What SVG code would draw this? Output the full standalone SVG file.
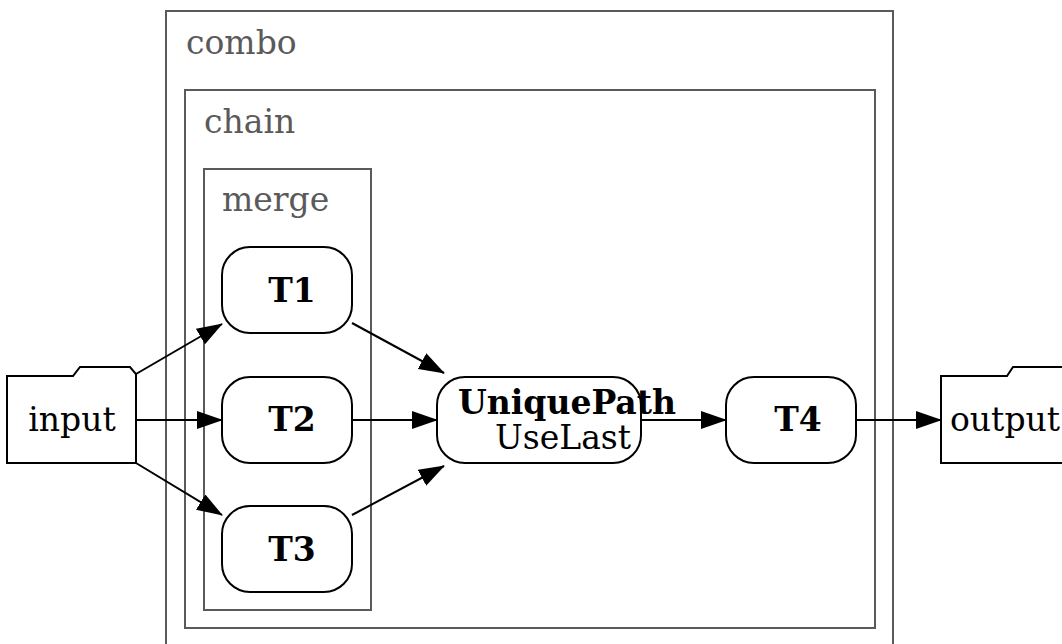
<svg xmlns="http://www.w3.org/2000/svg" width="1062" height="644" viewBox="0 0 1062 644">
<style>
.cl{fill:none;stroke:#5a5a5a;stroke-width:2}
.ct{font-family:"DejaVu Serif",serif;font-size:33px;fill:#5a5a5a}
.nd{fill:#fff;stroke:#000;stroke-width:2}
.nt{font-family:"DejaVu Serif",serif;font-size:33px;fill:#000;text-anchor:middle}
.b{font-weight:bold}
.e{stroke:#000;stroke-width:2;fill:none;marker-end:url(#ah)}
</style>
<defs>
<marker id="ah" markerWidth="26" markerHeight="18" refX="25" refY="9" orient="auto" markerUnits="userSpaceOnUse">
<path d="M0,0 L26,9 L0,18 Z" fill="#000"/>
</marker>
</defs>
<g id="combo"><rect class="cl" x="166" y="11" width="727" height="640"/><text class="ct" x="186" y="54">combo</text></g>
<g id="chain"><rect class="cl" x="185" y="90" width="690" height="538"/><text class="ct" x="204" y="133">chain</text></g>
<g id="merge"><rect class="cl" x="204" y="169" width="167" height="441"/><text class="ct" x="222" y="211">merge</text></g>
<g id="edges">
<path class="e" d="M136,374 L222,324"/>
<path class="e" d="M136,420 L222,420"/>
<path class="e" d="M136,463 L222,515"/>
<path class="e" d="M352,323 L444,373"/>
<path class="e" d="M352,420 L437,420"/>
<path class="e" d="M352,515 L444,466"/>
<path class="e" d="M641,420 L726,420"/>
<path class="e" d="M856,420 L941,420"/>
</g>
<g id="input"><path class="nd" d="M7,376 L73,376 L80,367 L130,367 L136,374 L136,463 L7,463 Z"/><text class="nt" x="72" y="431">input</text></g>
<g id="output"><path class="nd" d="M941,376 L1007,376 L1013,367 L1070,367 L1070,463 L941,463 Z"/><text class="nt" x="950" y="431" style="text-anchor:start">output</text></g>
<g id="T1"><rect class="nd" x="222" y="247" width="130" height="86" rx="28"/><text class="nt b" x="292" y="302">T1</text></g>
<g id="T2"><rect class="nd" x="222" y="377" width="130" height="86" rx="28"/><text class="nt b" x="292" y="431">T2</text></g>
<g id="T3"><rect class="nd" x="222" y="506" width="130" height="86" rx="28"/><text class="nt b" x="292" y="561">T3</text></g>
<g id="UniquePath"><rect class="nd" x="437" y="377" width="204" height="86" rx="28"/><text class="nt b" x="567" y="414">UniquePath</text><text class="nt" x="563" y="449">UseLast</text></g>
<g id="T4"><rect class="nd" x="726" y="377" width="130" height="86" rx="28"/><text class="nt b" x="798" y="431">T4</text></g>
</svg>
